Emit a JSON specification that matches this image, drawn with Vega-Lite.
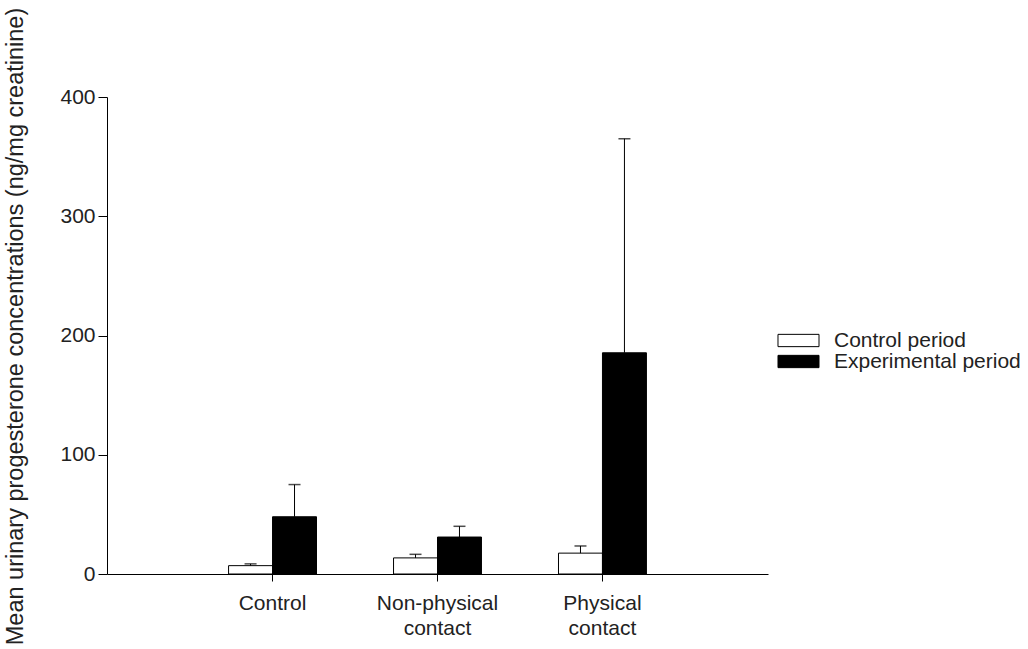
{
  "$schema": "https://vega.github.io/schema/vega-lite/v6.json",
  "width": 661,
  "height": 477,
  "autosize": "none",
  "padding": {"left": 107, "top": 97, "right": 260, "bottom": 75},
  "background": "white",
  "config": {
    "view": {"stroke": null},
    "font": "Liberation Sans",
    "axis": {"grid": false, "domainColor": "black", "tickColor": "black", "labelColor": "#222", "titleColor": "#222", "labelFontSize": 21, "titleFontSize": 23.5, "titleFontWeight": "normal"},
    "axisY": {"tickSize": 9, "labelPadding": 3, "titleX": -80, "titleY": 229, "titleAngle": -90, "titleAlign": "center", "titleBaseline": "bottom"},
    "axisX": {"tickSize": 7, "labelPadding": 11, "labelLineHeight": 25, "labelAngle": 0}
  },
  "data": {"values": [
    {"group": "Control", "period": "Control period", "mean": 7, "upper": 8.5},
    {"group": "Control", "period": "Experimental period", "mean": 48, "upper": 75},
    {"group": "Non-physical contact", "period": "Control period", "mean": 13.5, "upper": 16.5},
    {"group": "Non-physical contact", "period": "Experimental period", "mean": 31, "upper": 40},
    {"group": "Physical contact", "period": "Control period", "mean": 17.5, "upper": 23.5},
    {"group": "Physical contact", "period": "Experimental period", "mean": 185.5, "upper": 365}
  ]},
  "encoding": {
    "x": {"field": "group", "type": "nominal", "sort": null, "scale": {"paddingInner": 0.467, "paddingOuter": 0.737}, "axis": {"title": null, "labelExpr": "split(datum.label, ' ')"}},
    "xOffset": {"field": "period", "type": "nominal", "sort": null, "scale": {"paddingInner": 0, "paddingOuter": 0}}
  },
  "layer": [
    {
      "mark": {"type": "bar", "stroke": "black", "strokeWidth": 1},
      "encoding": {
        "y": {"field": "mean", "type": "quantitative", "scale": {"domain": [0, 400]}, "axis": {"title": "Mean urinary progesterone concentrations (ng/mg creatinine)", "values": [0, 100, 200, 300, 400]}},
        "fill": {"field": "period", "type": "nominal", "scale": {"domain": ["Control period", "Experimental period"], "range": ["white", "black"]},
          "legend": {"title": null, "orient": "none", "legendX": 681, "legendY": 233, "symbolType": "M-2.5,-0.75H2.5V0.75H-2.5Z", "symbolSize": 269, "symbolStrokeColor": "black", "symbolStrokeWidth": 1, "symbolOpacity": 1, "labelFontSize": 21, "labelColor": "#222", "labelOffset": 25, "labelLimit": 400, "rowPadding": -3, "padding": 0}}
      }
    },
    {
      "mark": {"type": "rule", "color": "black", "strokeWidth": 1},
      "encoding": {
        "y": {"field": "mean", "type": "quantitative", "axis": {"title": "Mean urinary progesterone concentrations (ng/mg creatinine)", "values": [0, 100, 200, 300, 400]}},
        "y2": {"field": "upper"}
      }
    },
    {
      "mark": {"type": "tick", "color": "black", "size": 12, "thickness": 1.5, "orient": "horizontal"},
      "encoding": {
        "y": {"field": "upper", "type": "quantitative", "axis": {"title": "Mean urinary progesterone concentrations (ng/mg creatinine)", "values": [0, 100, 200, 300, 400]}}
      }
    }
  ]
}
